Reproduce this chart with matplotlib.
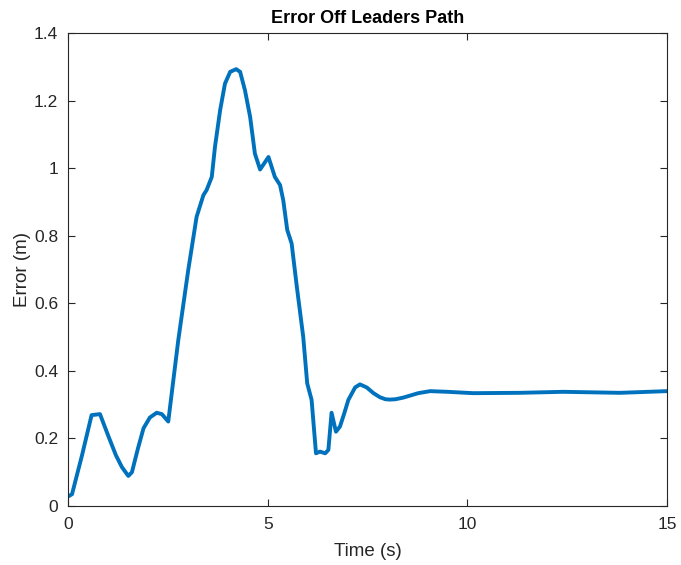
import numpy as np
import matplotlib.pyplot as plt

plt.rcParams['font.family'] = ['Liberation Sans', 'DejaVu Sans']

# Valores
tempo = [0.0, 0.1, 0.35, 0.59, 0.8, 1.0, 1.2, 1.35, 1.51, 1.6, 1.75, 1.89, 2.05, 2.22, 2.35, 2.51,
         2.76, 3.01, 3.22, 3.39, 3.47, 3.6, 3.68, 3.81, 3.93, 4.06, 4.21, 4.31, 4.43, 4.56,
         4.68, 4.81, 5.02, 5.18, 5.31, 5.39, 5.49, 5.6, 5.68, 5.73, 5.89, 5.99, 6.1, 6.21,
         6.31, 6.44, 6.52, 6.6, 6.71, 6.81, 6.92, 7.02, 7.19, 7.31, 7.48, 7.65, 7.81, 7.95,
         8.06, 8.2, 8.4, 8.6, 8.77, 9.07, 9.5, 10.15, 11.3, 12.4, 13.82, 15.0]
erro = [0.028, 0.035, 0.15, 0.269, 0.272, 0.21, 0.15, 0.115, 0.089, 0.10, 0.17, 0.23, 0.262, 0.276,
        0.272, 0.25, 0.49, 0.698, 0.856, 0.92, 0.935, 0.974, 1.063, 1.172, 1.25, 1.285, 1.293,
        1.285, 1.231, 1.152, 1.043, 0.996, 1.033, 0.974, 0.95, 0.905, 0.817, 0.777, 0.698,
        0.649, 0.501, 0.363, 0.314, 0.156, 0.161, 0.156, 0.166, 0.276, 0.22, 0.235, 0.275,
        0.314, 0.351, 0.360, 0.351, 0.334, 0.322, 0.316, 0.315, 0.316, 0.321, 0.328, 0.334,
        0.340, 0.338, 0.334, 0.335, 0.338, 0.335, 0.34]

fig = plt.figure(figsize=(6.81, 5.65), dpi=100)
ax = fig.add_axes([0.0999, 0.1044, 0.8795, 0.8372])

ax.plot(tempo, erro, color='#0072BD', linewidth=2.8,
        solid_joinstyle='round', solid_capstyle='round')

ax.set_xlim(0, 15)
ax.set_ylim(0, 1.4)
ax.set_xticks([0, 5, 10, 15])
ax.set_yticks(np.arange(0, 1.41, 0.2))
ax.set_yticklabels(['0', '0.2', '0.4', '0.6', '0.8', '1', '1.2', '1.4'])

ax.tick_params(direction='in', top=True, right=True, length=5, width=0.8,
               labelsize=12.5, colors='#262626')
ax.tick_params(axis='x', pad=8)
ax.tick_params(axis='y', pad=7)
for s in ax.spines.values():
    s.set_color('#262626')
    s.set_linewidth(0.8)

ax.set_title("Error Off Leaders Path", fontsize=13, fontweight='bold', pad=7)
ax.set_xlabel("Time (s)", fontsize=13.5, color='#262626', labelpad=8)
ax.set_ylabel("Error (m)", fontsize=13.5, color='#262626', labelpad=2)

fig.savefig('out.png', dpi=100)
